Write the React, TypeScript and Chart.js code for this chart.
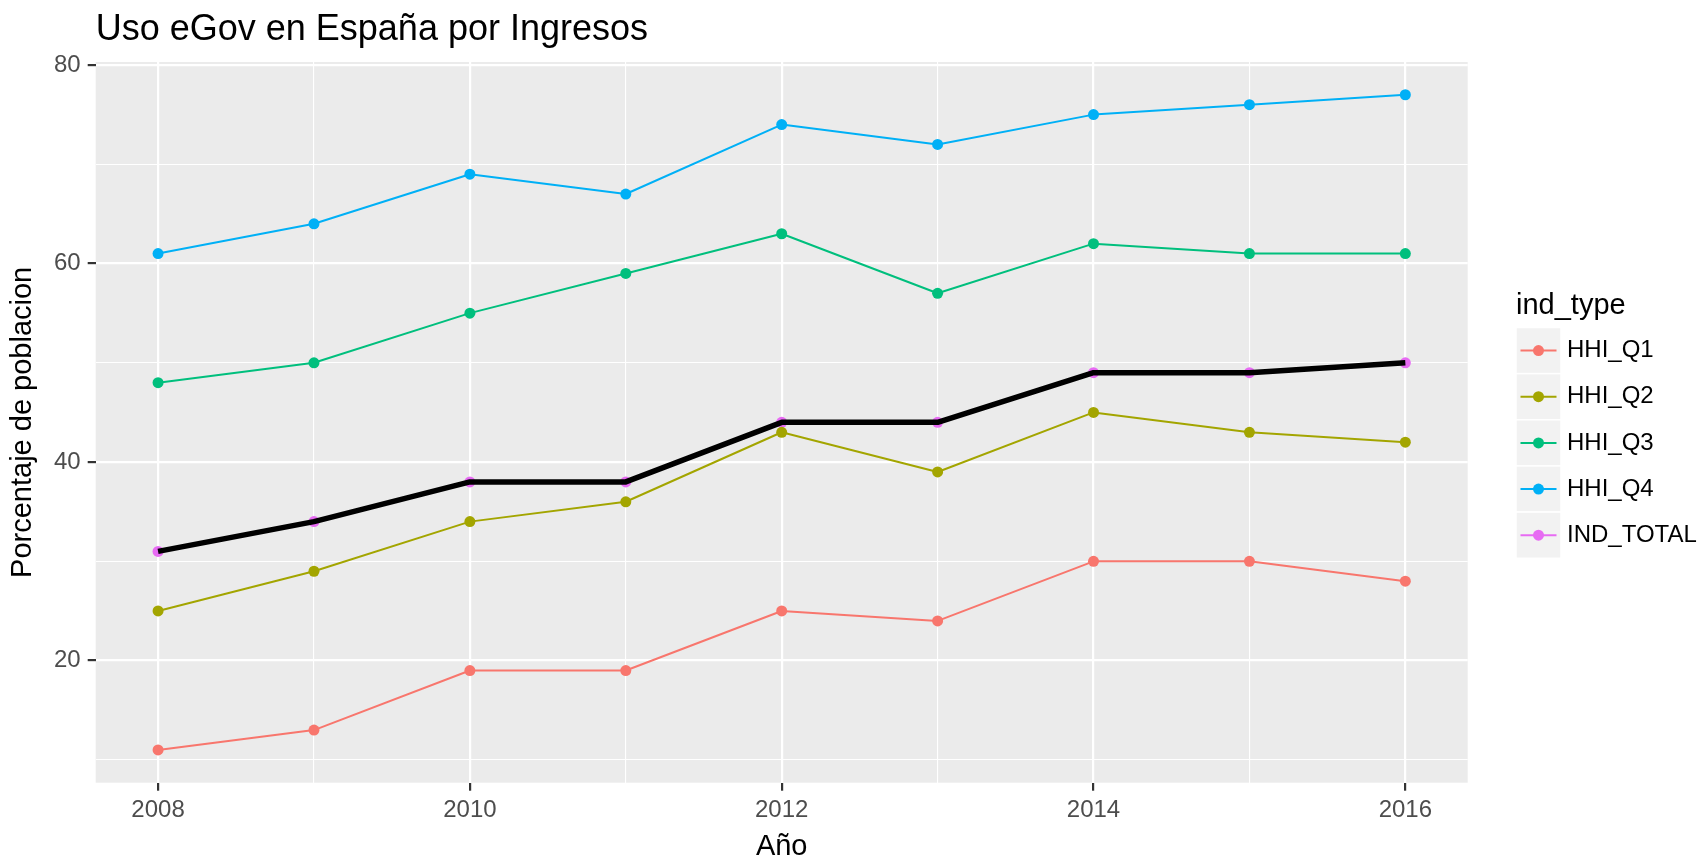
import React, { useEffect, useRef } from "react";
import { Chart, registerables } from "chart.js";

Chart.register(...registerables);

// ---------- data ----------
const years = [2008, 2009, 2010, 2011, 2012, 2013, 2014, 2015, 2016];
const hhiQ1 = [11, 13, 19, 19, 25, 24, 30, 30, 28];
const hhiQ2 = [25, 29, 34, 36, 43, 39, 45, 43, 42];
const hhiQ3 = [48, 50, 55, 59, 63, 57, 62, 61, 61];
const hhiQ4 = [61, 64, 69, 67, 74, 72, 75, 76, 77];
const indTotal = [31, 34, 38, 38, 44, 44, 49, 49, 50];

const seriesNames = ["HHI_Q1", "HHI_Q2", "HHI_Q3", "HHI_Q4", "IND_TOTAL"];
const seriesValues = [hhiQ1, hhiQ2, hhiQ3, hhiQ4, indTotal];
const seriesColors = ["#F8766D", "#A3A500", "#00BF7D", "#00B0F6", "#E76BF3"];

const xTickValues = [2008, 2009, 2010, 2011, 2012, 2013, 2014, 2015, 2016];
const xMajorTicks = [2008, 2010, 2012, 2014, 2016];
const yTickValues = [10, 20, 30, 40, 50, 60, 70, 80];
const yMajorTicks = [20, 40, 60, 80];

const chartTitle = "Uso eGov en España por Ingresos";
const xAxisTitle = "Año";
const yAxisTitle = "Porcentaje de poblacion";
const legendTitle = "ind_type";

const FONT = '"Liberation Sans", Arial, Helvetica, sans-serif';
const W = 1702;
const H = 861;
const POINT_R = 5.5;

const ggPlugin = {
  id: "ggDecor",
  beforeDraw(chart: any) {
    const { ctx, chartArea: a } = chart;
    ctx.save();
    ctx.fillStyle = "#EBEBEB";
    ctx.fillRect(a.left, a.top, a.right - a.left, a.bottom - a.top);
    ctx.restore();
  },
  afterDraw(chart: any) {
    const { ctx, chartArea: a } = chart;
    ctx.save();
    // plot title
    ctx.fillStyle = "#000000";
    ctx.textAlign = "left";
    ctx.textBaseline = "alphabetic";
    ctx.font = `36px ${FONT}`;
    ctx.fillText(chartTitle, a.left, 40);

    // legend
    const lx = 1516;
    const keyW = 45;
    const keyH = 46.15;
    const top0 = 327.5;
    ctx.font = `29px ${FONT}`;
    ctx.fillText(legendTitle, lx, 314);
    seriesNames.forEach((name, i) => {
      const y0 = top0 + i * keyH;
      const cy = y0 + keyH / 2;
      ctx.fillStyle = "#F2F2F2";
      ctx.fillRect(lx, y0, keyW, keyH);
      ctx.strokeStyle = "#FFFFFF";
      ctx.lineWidth = 1.5;
      ctx.strokeRect(lx, y0, keyW, keyH);
      ctx.strokeStyle = seriesColors[i];
      ctx.lineWidth = 2;
      ctx.beginPath();
      ctx.moveTo(lx + 4.5, cy);
      ctx.lineTo(lx + keyW - 4.5, cy);
      ctx.stroke();
      ctx.fillStyle = seriesColors[i];
      ctx.beginPath();
      ctx.arc(lx + keyW / 2, cy, POINT_R, 0, Math.PI * 2);
      ctx.fill();
      ctx.fillStyle = "#000000";
      ctx.font = `24px ${FONT}`;
      ctx.textBaseline = "middle";
      ctx.fillText(name, lx + keyW + 6, cy);
      ctx.textBaseline = "alphabetic";
    });
    ctx.restore();
  },
};

export default function App() {
  const canvasRef = useRef<HTMLCanvasElement | null>(null);

  useEffect(() => {
    if (!canvasRef.current) return;
    const colored = seriesNames.map((name, i) => ({
      label: name,
      data: years.map((yr, j) => ({ x: yr, y: seriesValues[i][j] })),
      borderColor: seriesColors[i],
      backgroundColor: seriesColors[i],
      borderWidth: 2,
      pointRadius: POINT_R,
      pointBorderWidth: 0,
      pointBackgroundColor: seriesColors[i],
      borderJoinStyle: "round" as const,
      order: 1,
    }));
    const blackLine = {
      label: "total_line",
      data: years.map((yr, j) => ({ x: yr, y: indTotal[j] })),
      borderColor: "#000000",
      backgroundColor: "#000000",
      borderWidth: 5.5,
      pointRadius: 0,
      borderJoinStyle: "round" as const,
      order: 0,
    };

    const chart = new Chart(canvasRef.current, {
      type: "line",
      data: { datasets: [blackLine, ...colored] as any },
      plugins: [ggPlugin],
      options: {
        animation: false,
        responsive: false,
        events: [],
        layout: { padding: { left: 0, top: 62, right: W - 1467.7, bottom: 0 } },
        plugins: {
          legend: { display: false },
          tooltip: { enabled: false },
          title: { display: false },
        },
        scales: {
          x: {
            type: "linear",
            min: 2007.6,
            max: 2016.4,
            afterBuildTicks: (s: any) => {
              s.ticks = xTickValues.map((v) => ({ value: v }));
            },
            afterFit: (s: any) => {
              s.height = H - 782.7;
            },
            border: { display: false },
            grid: {
              color: "#FFFFFF",
              lineWidth: (c: any) => (c.tick && xMajorTicks.includes(c.tick.value) ? 2.2 : 1.1),
              drawTicks: true,
              tickLength: 8,
              tickWidth: 2.2,
              tickColor: (c: any) =>
                c.tick && xMajorTicks.includes(c.tick.value) ? "#333333" : "rgba(0,0,0,0)",
            },
            ticks: {
              autoSkip: false,
              maxRotation: 0,
              padding: 5,
              color: "#4D4D4D",
              font: { family: FONT, size: 24 },
              callback: (v: any) => (xMajorTicks.includes(Number(v)) ? String(v) : ""),
            },
            title: {
              display: true,
              text: xAxisTitle,
              color: "#000000",
              font: { family: FONT, size: 29, lineHeight: 1 },
              padding: { top: 0, bottom: 0 },
            },
          },
          y: {
            type: "linear",
            min: 7.7,
            max: 80.3,
            afterBuildTicks: (s: any) => {
              s.ticks = yTickValues.map((v) => ({ value: v }));
            },
            afterFit: (s: any) => {
              s.width = 95.7;
            },
            border: { display: false },
            grid: {
              color: "#FFFFFF",
              lineWidth: (c: any) => (c.tick && yMajorTicks.includes(c.tick.value) ? 2.2 : 1.1),
              drawTicks: true,
              tickLength: 8,
              tickWidth: 2.2,
              tickColor: (c: any) =>
                c.tick && yMajorTicks.includes(c.tick.value) ? "#333333" : "rgba(0,0,0,0)",
            },
            ticks: {
              autoSkip: false,
              padding: 7,
              color: "#4D4D4D",
              font: { family: FONT, size: 24 },
              callback: (v: any) => (yMajorTicks.includes(Number(v)) ? String(v) : ""),
            },
            title: {
              display: true,
              text: yAxisTitle,
              color: "#000000",
              font: { family: FONT, size: 29, lineHeight: 1.2 },
              padding: { top: 6, bottom: 0 },
            },
          },
        },
      } as any,
    });
    return () => chart.destroy();
  }, []);

  return (
    <div style={{ position: "absolute", left: 0, top: 0, width: W, height: H, background: "#FFFFFF" }}>
      <canvas ref={canvasRef} width={W} height={H} style={{ display: "block", width: W, height: H }} />
    </div>
  );
}
